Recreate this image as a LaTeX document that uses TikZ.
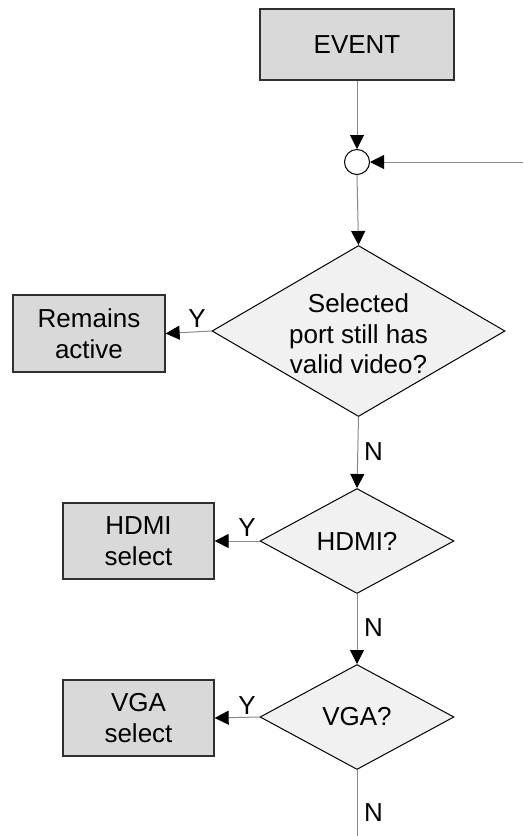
\documentclass[tikz,border=0pt]{standalone}
\usepackage{fontspec}
\setmainfont{Liberation Sans}
\usetikzlibrary{shapes.geometric,arrows.meta}
\definecolor{boxfill}{HTML}{D9D9D9}
\definecolor{decfill}{HTML}{F1F1F1}
\definecolor{linegray}{HTML}{8A8A8A}
\definecolor{edgedark}{HTML}{303030}
\tikzset{
  procbox/.style={draw=edgedark, line width=1.3pt, fill=boxfill, minimum width=#1, inner sep=0pt, align=center, font=\fontsize{26}{31}\selectfont},
  decbox/.style={diamond, draw=black, line width=1pt, fill=decfill, inner sep=0pt},
  dectext/.style={align=center, inner sep=0pt, font=\fontsize{26}{30.5}\selectfont},
  junction/.style={circle, draw=black, line width=1pt, fill=white, minimum size=25pt, inner sep=0pt},
  flow/.style={draw=linegray, line width=1pt, -{Triangle[length=14pt,width=14pt,color=black]}},
  plainflow/.style={draw=linegray, line width=1pt},
  lbl/.style={inner sep=0pt, font=\fontsize{26}{30}\selectfont}
}
\begin{document}
\begin{tikzpicture}[x=1pt,y=-1pt]
\useasboundingbox (0,0) rectangle (523,836);
% nodes
\node[procbox=194pt, minimum height=71pt] (event) at (357,44.5) {EVENT};
\node[junction] (junc) at (357,162) {};
\coordinate (rin) at (523,162);
\node[decbox, minimum width=293pt, minimum height=171pt] (d1) at (358.5,331) {};
\node[dectext] (d1t) at (358.5,334) {Selected\\port still has\\valid video?};
\node[procbox=152pt, minimum height=77pt] (rem) at (89,333.5) {Remains\\active};
\node[decbox, minimum width=194pt, minimum height=105pt] (d2) at (357,541) {};
\node[dectext] (d2t) at (d2.center) {HDMI?};
\node[procbox=151pt, minimum height=76pt] (hdmi) at (138.5,541) {HDMI\\select};
\node[decbox, minimum width=194pt, minimum height=105pt] (d3) at (357,717) {};
\node[dectext] (d3t) at (d3.center) {VGA?};
\node[procbox=151pt, minimum height=76pt] (vga) at (138.5,718) {VGA\\select};
\coordinate (bot) at (357,836);
% connectors
\draw[flow] (event.south) -- (junc.north);
\draw[flow] (rin) -- (junc.east);
\draw[flow] (junc.south) -- (d1.north);
\draw[flow] (d1.west) -- (rem.east);
\draw[flow] (d1.south) -- (d2.north);
\draw[flow] (d2.west) -- (hdmi.east);
\draw[flow] (d2.south) -- (d3.north);
\draw[flow] (d3.west) -- (vga.east);
\draw[plainflow] (d3.south) -- (bot);
% labels
\node[lbl] (y1) at (197,319) {Y};
\node[lbl] (y2) at (247,528) {Y};
\node[lbl] (y3) at (247,706) {Y};
\node[lbl, anchor=west] (n1) at (364,452) {N};
\node[lbl, anchor=west] (n2) at (364,628) {N};
\node[lbl, anchor=west] (n3) at (364,813) {N};
\end{tikzpicture}
\end{document}
